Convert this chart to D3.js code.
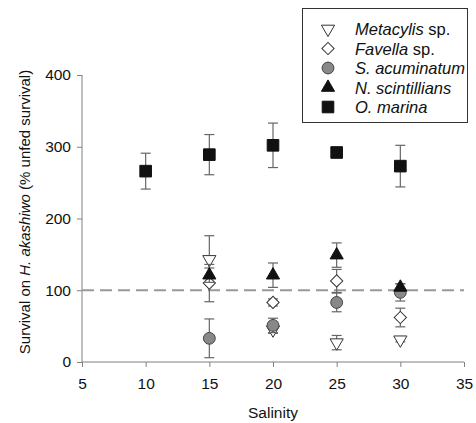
<!DOCTYPE html>
<html><head>
<meta charset="utf-8">
<script src="https://d3js.org/d3.v7.min.js"></script>
<style>
  body { margin: 0; background: #fff; }
  svg text { font-family: "Liberation Sans", Arial, sans-serif; fill: #111; }
  .axis path, .axis line { stroke: #808080; }
  .axis text { font-size: 15.5px; }
</style>
</head>
<body>
<svg id="chart" width="476" height="423"></svg>
<script>
// data
const salinity = [15, 20, 25, 30];
const omSalinity = [10, 15, 20, 25, 30];
const metacylis = [143, 45, 27, 31];
const metacylisErr = [33, 5, 10, 3];
const favella = [110, 83, 113, 62];
const favellaErr = [26, 5, 16, 13];
const sAcum = [33, 51, 83, 97];
const sAcumErr = [27, 10, 13, 12];
const nScint = [121, 121, 149, 104];
const nScintErr = [10, 17, 17, 5];
const oMarina = [266, 289, 302, 292, 273];
const oMarinaErr = [25, 28, 31, 6, 29];
const xTicks = [5, 10, 15, 20, 25, 30, 35];
const yTicks = [0, 100, 200, 300, 400];

const svg = d3.select("#chart");
const x = d3.scaleLinear().domain([5, 35]).range([82, 464]);
const y = d3.scaleLinear().domain([0, 400]).range([362, 75]);

// axes
svg.append("g").attr("class", "axis")
   .attr("transform", "translate(0,362)")
   .call(d3.axisBottom(x).tickValues(xTicks).tickSize(5).tickPadding(11))
   .call(g => g.select(".domain").attr("d", "M82,0H464"));
svg.append("g").attr("class", "axis")
   .attr("transform", "translate(82,0)")
   .call(d3.axisLeft(y).tickValues(yTicks).tickSize(5).tickPadding(6))
   .call(g => g.select(".domain").attr("d", "M0,75V362"));

// reference line at 100
svg.append("line")
   .attr("x1", x(5)).attr("x2", x(35))
   .attr("y1", y(100)).attr("y2", y(100))
   .attr("stroke", "#999").attr("stroke-width", 2)
   .attr("stroke-dasharray", "12,6");

// labels
svg.append("text").attr("x", 273).attr("y", 418)
   .attr("text-anchor", "middle").style("font-size", "15.5px").text("Salinity");
const yl = svg.append("text").attr("transform", "translate(30,212) rotate(-90)")
   .attr("text-anchor", "middle").style("font-size", "15px");
yl.append("tspan").text("Survival on ");
yl.append("tspan").style("font-style", "italic").text("H. akashiwo");
yl.append("tspan").text(" (% unfed survival)");

const symbols = {
  tri_down: d3.symbol().type(d3.symbolTriangle).size(75),
  diamond: d3.symbol().type(d3.symbolSquare).size(75),
  circle: d3.symbol().type(d3.symbolCircle).size(110),
  tri_up: d3.symbol().type(d3.symbolTriangle).size(75),
  square: d3.symbol().type(d3.symbolSquare).size(135)
};
const rot = { tri_down: 180, diamond: 45, circle: 0, tri_up: 0, square: 0 };

const series = [
  { name: "Metacylis", rest: " sp.", xs: salinity, v: metacylis, e: metacylisErr, sym: "tri_down", fill: "#fff", stroke: "#333" },
  { name: "Favella", rest: " sp.", xs: salinity, v: favella, e: favellaErr, sym: "diamond", fill: "#fff", stroke: "#333" },
  { name: "S. acuminatum", rest: "", xs: salinity, v: sAcum, e: sAcumErr, sym: "circle", fill: "#888", stroke: "#444" },
  { name: "N. scintillians", rest: "", xs: salinity, v: nScint, e: nScintErr, sym: "tri_up", fill: "#111", stroke: "#111" },
  { name: "O. marina", rest: "", xs: omSalinity, v: oMarina, e: oMarinaErr, sym: "square", fill: "#111", stroke: "#111" }
];

series.forEach(s => {
  const pts = s.xs.map((xv, i) => ({ x: xv, v: s.v[i], e: s.e[i] }));
  const g = svg.append("g");
  const eb = g.selectAll("g.err").data(pts).join("g").attr("class", "err")
     .attr("stroke", "#666").attr("stroke-width", 1.2);
  eb.append("line").attr("x1", d => x(d.x)).attr("x2", d => x(d.x))
     .attr("y1", d => y(d.v + d.e)).attr("y2", d => y(d.v - d.e));
  eb.append("line").attr("x1", d => x(d.x) - 5).attr("x2", d => x(d.x) + 5)
     .attr("y1", d => y(d.v + d.e)).attr("y2", d => y(d.v + d.e));
  eb.append("line").attr("x1", d => x(d.x) - 5).attr("x2", d => x(d.x) + 5)
     .attr("y1", d => y(d.v - d.e)).attr("y2", d => y(d.v - d.e));
  g.selectAll("path.pt").data(pts).join("path").attr("class", "pt")
     .attr("d", symbols[s.sym])
     .attr("transform", d => `translate(${x(d.x)},${y(d.v)}) rotate(${rot[s.sym]})`)
     .attr("fill", s.fill).attr("stroke", s.stroke).attr("stroke-width", 1);
});

// legend
const lg = svg.append("g");
lg.append("rect").attr("x", 302.5).attr("y", 8.5).attr("width", 165).attr("height", 114)
   .attr("fill", "#fff").attr("stroke", "#333").attr("stroke-width", 1);
series.forEach((s, i) => {
  const yy = 29 + i * 19.5;
  lg.append("path").attr("d", symbols[s.sym])
    .attr("transform", `translate(328,${yy}) rotate(${rot[s.sym]})`)
    .attr("fill", s.fill).attr("stroke", s.stroke);
  const t = lg.append("text").attr("x", 355).attr("y", yy + 6).style("font-size", "16.5px");
  t.append("tspan").style("font-style", "italic").text(s.name);
  if (s.rest) t.append("tspan").text(s.rest);
});
</script>
</body>
</html>
